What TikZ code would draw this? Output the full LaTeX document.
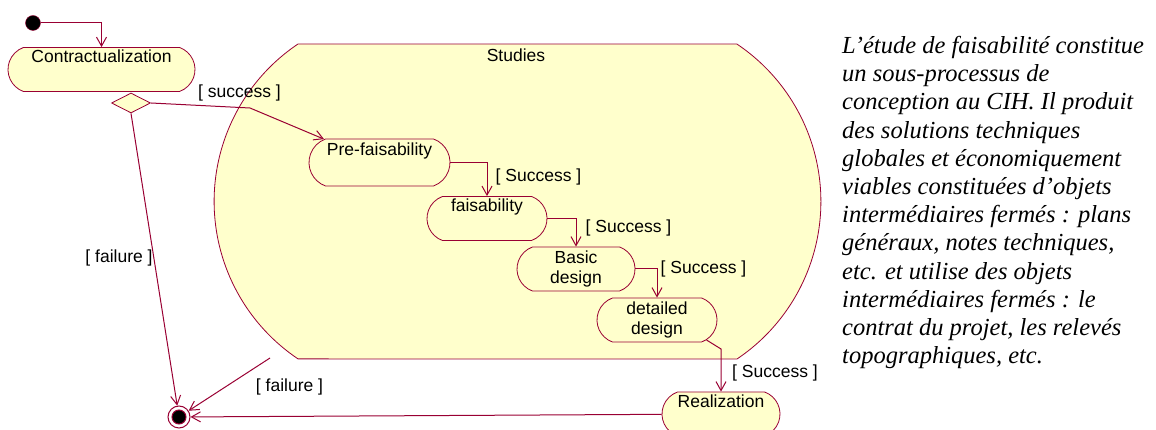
\documentclass[tikz,border=0pt]{standalone}
\usepackage{fontspec}
\usepackage{xcolor}
\usepackage{tikz}
\usetikzlibrary{arrows.meta, shapes.geometric, shapes.misc}
\setmainfont{Liberation Serif}
\newfontfamily\diagfont{Liberation Sans}
\definecolor{umlred}{RGB}{153,0,51}
\definecolor{umlfill}{RGB}{255,255,204}
\tikzset{
    act/.style={rounded rectangle, rounded rectangle arc length=140, draw=umlred, fill=umlfill,
        line width=0.8pt, font=\diagfont\fontsize{17.5}{20}\selectfont, align=center,
        minimum height=44pt, inner ysep=2pt, inner xsep=0pt},
    oneline/.style={text height=13pt, text depth=26pt},
    decision/.style={diamond, draw=umlred, fill=umlfill, line width=0.8pt, shape aspect=2,
        minimum width=39pt, minimum height=20pt, inner sep=0pt},
    initial/.style={circle, fill=black, draw=umlred, minimum size=15pt, inner sep=0pt},
    final/.style={circle, draw=umlred, fill=white, line width=1pt, minimum size=22pt, inner sep=0pt,
        path picture={\filldraw[fill=black, draw=umlred] (path picture bounding box.center) circle (7pt);}},
    studies/.style={draw=umlred, fill=umlfill, line width=0.8pt},
    flow/.style={draw=umlred, line width=1pt, -{Straight Barb[length=9pt, width=10pt]}},
    guard/.style={font=\diagfont\fontsize{17.5}{20}\selectfont, inner sep=0pt},
    note/.style={font=\itshape\fontsize{24.5}{28.2}\selectfont, align=left, inner sep=0pt}
}
\begin{document}
\begin{tikzpicture}[x=1pt, y=1pt]
        \useasboundingbox (0,0) rectangle (1156,430);
        \draw[studies] (298,386) arc[start angle=123.9, end angle=236.1, radius=189.7]
            -- (737,71) arc[start angle=-56.1, end angle=56.1, radius=189.7] -- cycle;
        \node[guard] (studiesLbl) at (516,375) {Studies};

        \node[initial] (init) at (33,407) {};
        \node[act, oneline, minimum width=187pt] (contr) at (101.5,360.5) {Contractualization};
        \node[decision] (dec) at (131,327) {};
        \node[act, oneline, minimum width=141pt, minimum height=47pt] (pre) at (379.5,267.5) {Pre-faisability};
        \node[act, oneline, minimum width=120pt] (fais) at (487,211.5) {faisability};
        \node[act, minimum width=118pt] (basic) at (576,161) {Basic\\design};
        \node[act, minimum width=120pt] (det) at (657,110) {detailed\\design};
        \node[act, oneline, minimum width=118pt] (real) at (721,16) {Realization};
        \node[final] (final) at (179,13) {};

        \coordinate (sbend) at (250,322);
        \coordinate (dbend) at (721,81);
        \coordinate (studiesExit) at (270,72);

        \draw[flow] (init) -| (contr);
        \draw[flow] (dec.east) -- (sbend) -- (pre);
        \draw[flow] (pre) -| (fais);
        \draw[flow] (fais) -| (basic);
        \draw[flow] (basic) -| (det);
        \draw[flow] (det.-22) -- (dbend) -- (real);
        \draw[flow] (dec.south) -- (final);
        \draw[flow] (studiesExit) -- (final);
        \draw[flow] (real) -- (final);

        \node[guard] (lblSuccess) at (239.5,337) {[ success ]};
        \node[guard] (lblPre) at (538.5,253) {[ Success ]};
        \node[guard] (lblFais) at (628.5,202) {[ Success ]};
        \node[guard] (lblBasic) at (703.5,161) {[ Success ]};
        \node[guard] (lblDet) at (775,57) {[ Success ]};
        \node[guard] (lblFailA) at (119,172) {[ failure ]};
        \node[guard] (lblFailB) at (289.5,43) {[ failure ]};

        \node[note, anchor=north west] (note) at (842,394) {L’étude de faisabilité constitue\\
            un sous-processus de\\
            conception au CIH. Il produit\\
            des solutions techniques\\
            globales et économiquement\\
            viables constituées d’objets\\
            intermédiaires fermés : plans\\
            généraux, notes techniques,\\
            etc. et utilise des objets\\
            intermédiaires fermés : le\\
            contrat du projet, les relevés\\
            topographiques, etc.};
\end{tikzpicture}
\end{document}
